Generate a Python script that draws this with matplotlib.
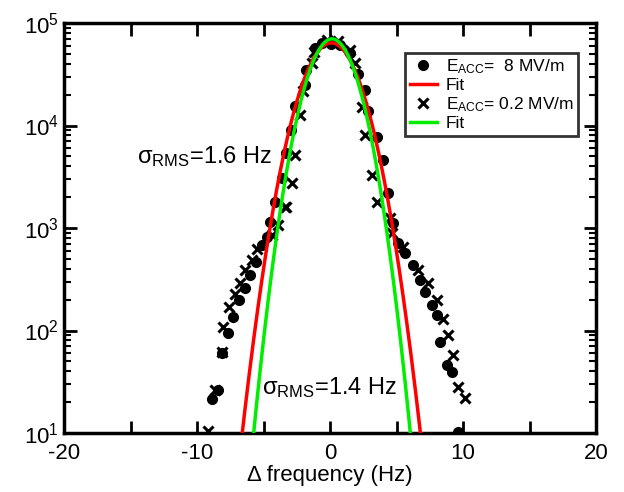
import numpy as np
import matplotlib.pyplot as plt
from matplotlib.ticker import MultipleLocator, LogLocator

plt.rcParams["font.family"] = ["Liberation Sans", "DejaVu Sans"]
plt.rcParams["mathtext.fontset"] = "custom"
plt.rcParams["mathtext.rm"] = "Liberation Sans"
plt.rcParams["mathtext.it"] = "Liberation Sans:italic"
plt.rcParams["axes.unicode_minus"] = False

# E_ACC = 8 MV/m (dots)
f_8 = [-8.9, -8.4, -8.1, -7.67, -7.3, -6.84, -6.39, -6.0, -5.56, -5.11, -4.74, -4.5,
       -4.14, -3.6, -3.3, -2.93, -2.63, -1.88, -1.8, -1.13, -0.6, 0.1, 0.75, 1.5,
       2.1, 2.63, 2.86, 3.53, 3.98, 4.36, 4.74, 5.1, 5.64, 6.24, 6.77, 7.14, 7.67,
       8.05, 8.27, 8.8, 9.17, 9.6]
n_8 = [21.5, 26, 60, 95, 136, 200, 260, 345, 465, 680, 815, 1150,
       1790, 3080, 5400, 9100, 15500, 25000, 35000, 57000, 64000, 63000, 61000, 51000,
       32000, 22000, 14000, 7800, 4600, 2200, 1120, 720, 570, 440, 310, 240, 178,
       141, 78, 46, 39, 10.3]

# E_ACC = 0.2 MV/m (crosses)
f_02 = [-9.17, -8.65, -8.1, -8.05, -7.6, -7.14, -6.77, -6.39, -5.86, -5.49, -4.36, -3.9,
        -3.38, -3.31, -2.86, -2.63, -2.26, -2.03, -1.35, -1.2, -0.25, 0.6, 1.5, 1.88,
        2.4, 2.63, 3.16, 3.53, 4.5, 4.66, 5.5, 6.6, 7.37, 8.05, 8.5, 8.87, 9.25,
        9.62, 10.15]
n_02 = [10.5, 26, 62, 107, 170, 225, 290, 390, 490, 620, 850, 1070,
        1590, 1590, 2750, 5100, 12600, 21500, 41000, 52000, 68000, 66000, 55000, 41000,
        15000, 8100, 3300, 1780, 1250, 890, 650, 390, 290, 200, 130, 91, 58,
        28, 22]

# Gaussian fits: amplitude, centre, sigma_RMS
fit_8 = (64000, 0.1, 1.6)
fit_02 = (70000, 0.15, 1.4)


def gauss(x, a, x0, s):
    return a * np.exp(-(x - x0) ** 2 / (2 * s ** 2))


fig = plt.figure(figsize=(6.24, 4.92), dpi=100)
ax = fig.add_axes([64 / 624, 1 - 433 / 492, 532 / 624, 410 / 492])

xf = np.linspace(-12, 12, 1200)
ax.plot(f_8, n_8, "o", color="black", ms=7, label=r"E$_{\mathrm{ACC}}$=  8 MV/m", zorder=3)
ax.plot(xf, gauss(xf, *fit_8), color="#ff0000", lw=2.5, label="Fit", zorder=4)
ax.plot(f_02, n_02, "x", color="black", ms=6.5, mew=2.2, label=r"E$_{\mathrm{ACC}}$= 0.2 MV/m", zorder=3)
ax.plot(xf, gauss(xf, *fit_02), color="#00ee00", lw=2.5, label="Fit", zorder=5)

ax.set_yscale("log")
ax.set_xlim(-20, 20)
ax.set_ylim(10, 1e5)
ax.xaxis.set_major_locator(MultipleLocator(10))
ax.xaxis.set_minor_locator(MultipleLocator(5))
ax.yaxis.set_major_locator(LogLocator(base=10, numticks=10))
ax.yaxis.set_minor_locator(LogLocator(base=10, subs=np.arange(2, 10), numticks=10))
ax.tick_params(which="both", direction="in", top=True, right=True, width=2, labelsize=16)
ax.tick_params(which="major", length=9)
ax.tick_params(which="minor", length=5, width=1.5)
ax.tick_params(axis="x", which="minor", length=9, width=2)
ax.tick_params(axis="x", pad=7)
for sp in ax.spines.values():
    sp.set_linewidth(2.5)

ax.set_xlabel("Δ frequency (Hz)", fontsize=16, labelpad=1)

ax.text(-14.5, 4300, r"σ$_{\mathrm{RMS}}$=1.6 Hz", fontsize=17)
ax.text(-5.1, 24, r"σ$_{\mathrm{RMS}}$=1.4 Hz", fontsize=17)

leg = ax.legend(loc="upper right", bbox_to_anchor=(0.967, 0.927), fontsize=12.5,
                frameon=True, fancybox=False, edgecolor="black", handlelength=1.6,
                handletextpad=0.5, borderpad=0.25, labelspacing=0.12, borderaxespad=0)
leg.get_frame().set_linewidth(2)

fig.savefig("out.png", dpi=100)
